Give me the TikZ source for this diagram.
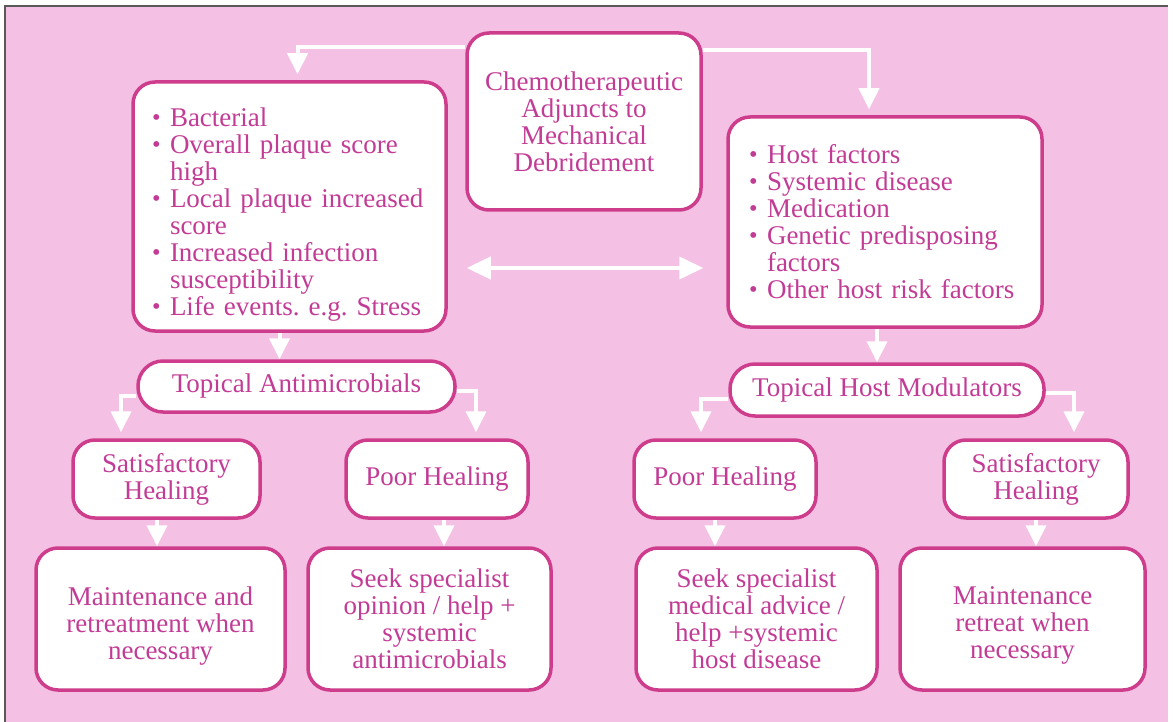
\documentclass[tikz,border=0pt]{standalone}
\usepackage{fontspec}
\setmainfont{Liberation Serif}
\usetikzlibrary{arrows.meta,calc}
\definecolor{bgpink}{RGB}{244,193,229}
\definecolor{edgepink}{RGB}{206,60,140}
\definecolor{txtpink}{RGB}{194,60,150}
\newcommand{\mybul}[1]{\mbox{\makebox[18pt][l]{\raisebox{0.05em}{\scalebox{0.9}{\textbullet}}}#1}}
\newcommand{\myind}[1]{\mbox{\hspace*{18pt}#1}}
\newcommand{\topstrut}[1]{\rule{0pt}{#1}}
\begin{document}
\frenchspacing
\begin{tikzpicture}[x=1pt,y=-1pt,
  box/.style={draw=edgepink, line width=3.5pt, fill=white, rounded corners=22pt,
    inner sep=0pt, text=txtpink, font=\fontsize{27}{27}\selectfont, align=center},
  pill/.style={box, rounded corners=25pt},
  arr/.style={draw=white, line width=4pt, -{Triangle[length=21pt,width=20pt]}, shorten >=6pt},
  darr/.style={draw=white, line width=4pt, {Triangle[length=24pt,width=22pt]}-{Triangle[length=24pt,width=22pt]}}
]
\useasboundingbox (0,0) rectangle (1175,722);
\fill[white] (0,0) rectangle (1175,722);
\fill[bgpink] (5,6) rectangle (1168,722);
\draw[gray!70!black, line width=1.2pt] (5,722) -- (5,6) -- (1168,6);

% nodes
\node[box, minimum width=234pt, minimum height=177pt] (chemo) at (584,121.5)
  {Chemotherapeutic\\Adjuncts to\\Mechanical\\Debridement};
\node[box, minimum width=313pt, minimum height=249pt, text width=275pt, align=left] (lb) at (289.5,206.5)
  {\topstrut{35pt}\mybul{Bacterial}\\
   \mybul{Overall plaque score}\\
   \myind{high}\\
   \mybul{Local plaque increased}\\
   \myind{score}\\
   \mybul{Increased infection}\\
   \myind{susceptibility}\\
   \mybul{Life events. e.g. Stress}};
\node[box, minimum width=314pt, minimum height=210pt, text width=272pt, align=left] (rb) at (885,222)
  {\mybul{Host factors}\\
   \mybul{Systemic disease}\\
   \mybul{Medication}\\
   \mybul{Genetic predisposing}\\
   \myind{factors}\\
   \mybul{Other host risk factors}};
\node[pill, minimum width=317pt, minimum height=51pt] (ta) at (296.5,386.5) {Topical Antimicrobials};
\node[pill, minimum width=314pt, minimum height=52pt] (thm) at (887,390) {Topical Host Modulators};

\node[box, minimum width=187pt, minimum height=78pt] (satl) at (166.5,479) {Satisfactory\\Healing};
\node[box, minimum width=182pt, minimum height=78pt] (poorl) at (437,479) {Poor Healing};
\node[box, minimum width=182pt, minimum height=78pt] (poorr) at (725,479) {Poor Healing};
\node[box, minimum width=184pt, minimum height=78pt] (satr) at (1036,479) {Satisfactory\\Healing};

\node[box, minimum width=249pt, minimum height=142pt] (maintl) at (160.5,619)
  {\topstrut{33pt}Maintenance and\\retreatment when\\necessary};
\node[box, minimum width=243pt, minimum height=142pt] (seekl) at (429.5,619)
  {Seek specialist\\opinion / help +\\systemic\\antimicrobials};
\node[box, minimum width=241pt, minimum height=142pt] (seekr) at (756.5,619)
  {Seek specialist\\medical advice /\\help +systemic\\host disease};
\node[box, minimum width=245pt, minimum height=142pt] (maintr) at (1022.5,619)
  {\topstrut{31pt}Maintenance\\retreat when\\necessary};

% helper coordinates
\path ($(chemo.north west)+(0,16)$) coordinate (c0)
      ($(lb.north)+(8,0)$) coordinate (c1)
      ($(chemo.north east)+(0,19)$) coordinate (c2)
      ($(rb.north)+(-16,0)$) coordinate (c3)
      ($(lb.east)+(19,61.5)$) coordinate (d1)
      ($(rb.west)+(-23,46)$) coordinate (d2)
      ($(lb.south)+(-10,0)$) coordinate (e1)
      ($(rb.south)+(-8,0)$) coordinate (e2)
      ($(ta.west)+(0,9)$) coordinate (f1)
      ($(satl.north)+(-45.5,0)$) coordinate (f2)
      ($(ta.east)+(0,4)$) coordinate (f3)
      ($(poorl.north)+(39,0)$) coordinate (f4)
      ($(thm.west)+(0,9)$) coordinate (g1)
      ($(poorr.north)+(-24,0)$) coordinate (g2)
      ($(thm.east)+(0,3)$) coordinate (g3)
      ($(satr.north)+(38,0)$) coordinate (g4)
      ($(satl.south)+(-9.5,0)$) coordinate (h1)
      ($(poorl.south)+(7,0)$) coordinate (h2)
      ($(poorr.south)+(-10,0)$) coordinate (h3)
      ($(satr.south)+(0,0)$) coordinate (h4);

% connectors
\draw[arr] (c0) -| (c1);
\draw[arr] (c2) -| (c3);
\draw[darr] (d1) -- (d2);
\draw[arr, shorten >=0pt] (e1) -- (e1 |- ta.north);
\draw[arr, shorten >=0pt] (e2) -- (e2 |- thm.north);
\draw[arr] (f1) -| (f2);
\draw[arr] (f3) -| (f4);
\draw[arr] (g1) -| (g2);
\draw[arr] (g3) -| (g4);
\draw[arr, shorten >=0pt] (h1) -- (h1 |- maintl.north);
\draw[arr, shorten >=0pt] (h2) -- (h2 |- seekl.north);
\draw[arr, shorten >=0pt] (h3) -- (h3 |- seekr.north);
\draw[arr, shorten >=0pt] (h4) -- (h4 |- maintr.north);
\end{tikzpicture}
\end{document}
